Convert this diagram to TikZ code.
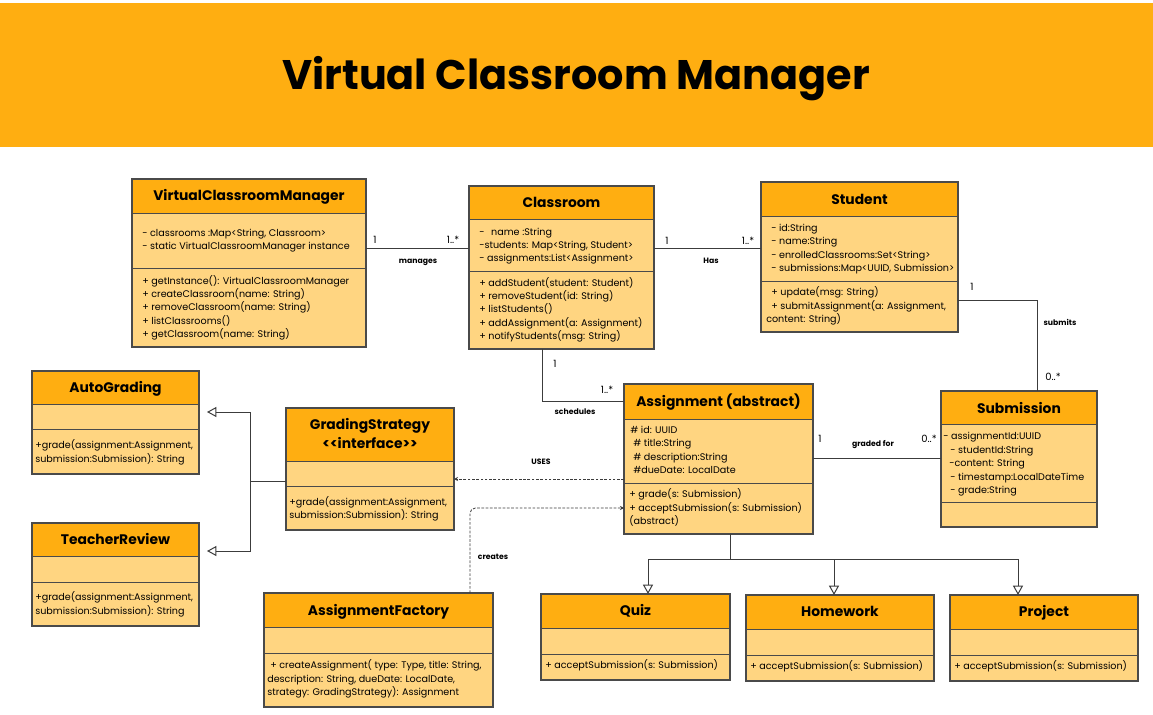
\documentclass[tikz,border=0pt]{standalone}
\usepackage{fontspec}
\setmainfont{Poppins}
\usetikzlibrary{arrows.meta,fit,calc}

\definecolor{headc}{HTML}{FFAE11}
\definecolor{bodyc}{HTML}{FFD581}
\definecolor{framec}{HTML}{4A4A4A}
\definecolor{linec}{HTML}{3C3C3C}

\tikzset{
  frame/.style={draw=framec, line width=0.8pt, inner sep=0pt, outer sep=0pt},
  rule/.style={draw=framec, line width=0.75pt},
  classtitle/.style={font=\fontsize{10.4}{13}\selectfont\bfseries, inner sep=0pt},
  bodytext/.style={font=\fontsize{7.2}{10}\selectfont, inner sep=0pt},
  mult/.style={font=\fontsize{7.5}{9}\selectfont, inner sep=0pt},
  rolelabel/.style={font=\fontsize{5.8}{7}\selectfont\bfseries, inner sep=0pt},
  assoc/.style={draw=linec, line width=0.75pt},
  dep/.style={draw=linec, line width=0.6pt, dash pattern=on 2pt off 1.2pt,
    -{Stealth[length=3pt,width=3pt]}},
  inherit/.style={draw=linec, line width=0.75pt,
    -{Triangle[open,length=7pt,width=7.5pt]}},
}

% class box: name, left, top, right, bottom, header bottom, divider, title baseline, title
\newcommand\umlclass[9]{%
  \fill[bodyc] (#2,#3) rectangle (#4,#5);
  \fill[headc] (#2,#3) rectangle (#4,#6);
  \draw[rule] (#2,#6) -- (#4,#6);
  \draw[rule] (#2,#7) -- (#4,#7);
  \node[frame, fit={(#2,#3)(#4,#5)}] (#1) {};
  \node[classtitle, anchor=base] (#1-title) at ({(#2+#4)/2},#8) {#9};
}

% compartment lines: name, x, first baseline, line step, list of lines
\newcommand\textlines[5]{%
  \foreach \t [count=\i] in {#5} {
    \node[bodytext, anchor=base west] (#1-\i) at (#2,{#3+(\i-1)*#4}) {\t};
  }%
}

\begin{document}
\begin{tikzpicture}[x=0.75pt,y=-0.75pt]
\useasboundingbox (0,0) rectangle (1153,714);
\fill[white] (0,0) rectangle (1153,714);

% banner
\fill[headc] (0,3) rectangle (1153,147);
\node[font=\fontsize{31}{36}\selectfont\bfseries, anchor=base, inner sep=0pt]
  (banner) at (576,89) {Virtual Classroom Manager};

% ---- classes ----
\umlclass{vcm}{132}{179}{366}{347}{213}{268}{200.5}{VirtualClassroomManager}
\textlines{vcm-a}{142}{236}{13.7}{{- classrooms :Map<String, Classroom>},{- static VirtualClassroomManager instance}}
\textlines{vcm-m}{142}{284.5}{13.2}{{+ getInstance(): VirtualClassroomManager},{+ createClassroom(name: String)},{+ removeClassroom(name: String)},{+ listClassrooms()},{+ getClassroom(name: String)}}

\umlclass{classroom}{469}{186}{654}{349}{219}{271}{207}{Classroom}
\textlines{classroom-a}{479}{235.5}{12.9}{{-\hspace*{5pt}name :String},{-students: Map<String, Student>},{- assignments:List<Assignment>}}
\textlines{classroom-m}{479}{286.5}{13.2}{{+ addStudent(student: Student)},{+ removeStudent(id: String)},{+ listStudents()},{+ addAssignment(a: Assignment)},{+ notifyStudents(msg: String)}}

\umlclass{student}{761}{182}{958}{332}{216}{281}{204}{Student}
\textlines{student-a}{771}{231.5}{13.3}{{- id:String},{- name:String},{- enrolledClassrooms:Set<String>},{- submissions:Map<UUID, Submission>}}
\textlines{student-m}{766}{295.5}{13.5}{{\hspace*{3.75pt}+ update(msg: String)},{\hspace*{3.75pt}+ submitAssignment(a: Assignment,},{content: String)}}

\umlclass{assignment}{624}{384}{813}{534}{419}{483}{406}{Assignment (abstract)}
\textlines{assignment-a}{630}{433.5}{13.3}{{\# id: UUID},{\hspace*{2.25pt}\# title:String},{\hspace*{2.25pt}\# description:String},{\hspace*{2.25pt}\#dueDate: LocalDate}}
\textlines{assignment-m}{629}{497.5}{13.5}{{+ grade(s: Submission)},{+ acceptSubmission(s: Submission)},{(abstract)}}

\umlclass{submission}{941}{391}{1097}{527}{424}{502}{413}{Submission}
\textlines{submission-a}{943}{439.5}{13.5}{{- assignmentId:UUID},{\hspace*{5.25pt}- studentId:String},{\hspace*{4.5pt}-content: String},{\hspace*{5.25pt}- timestamp:LocalDateTime},{\hspace*{5.25pt}- grade:String}}

\umlclass{autograding}{32}{371}{199}{474}{404}{429}{392}{AutoGrading}
\textlines{autograding-m}{35}{448.5}{13.5}{{+grade(assignment:Assignment,},{submission:Submission): String}}

\umlclass{teacher}{32}{523}{199}{626}{556}{582}{544}{TeacherReview}
\textlines{teacher-m}{35}{600}{14}{{+grade(assignment:Assignment,},{submission:Submission): String}}

\umlclass{gs}{286}{408}{454}{530}{461}{486}{429}{GradingStrategy}
\node[classtitle, anchor=base] (gs-stereo) at (370,448) {<\kern0pt<interface>\kern0pt>};
\textlines{gs-m}{289}{505.5}{13}{{+grade(assignment:Assignment,},{submission:Submission): String}}

\umlclass{factory}{264}{593}{493}{707}{627}{653}{615}{AssignmentFactory}
\textlines{factory-m}{267}{668.5}{13.5}{{\hspace*{2.25pt}+ createAssignment( type: Type, title: String,},{description: String, dueDate: LocalDate,},{strategy: GradingStrategy): Assignment}}

\umlclass{quiz}{541}{594}{730}{680}{628}{654}{615}{Quiz}
\textlines{quiz-m}{545}{668.5}{13}{{+ acceptSubmission(s: Submission)}}

\umlclass{homework}{746}{595}{934}{681}{629}{655}{616}{Homework}
\textlines{homework-m}{750}{669.5}{13}{{+ acceptSubmission(s: Submission)}}

\umlclass{project}{950}{595}{1138}{681}{629}{655}{616}{Project}
\textlines{project-m}{954}{669.5}{13}{{+ acceptSubmission(s: Submission)}}

% ---- associations ----
\draw[assoc] (vcm.east |- 0,248) -- (classroom.west |- 0,248);
\node[mult] (vcm-m1) at (375,240) {1};
\node[mult] (vcm-m2) at (453,240) {1..*};
\node[rolelabel] (manages) at (418,262) {manages};

\draw[assoc] (classroom.east |- 0,248) -- (student.west |- 0,248);
\node[mult] (has-m1) at (667,241) {1};
\node[mult] (has-m2) at (748,241) {1..*};
\node[rolelabel] (has) at (711,261) {Has};

\draw[assoc] (classroom.south -| 542,0) |- (assignment.west |- 0,401);
\node[mult] (sch-m1) at (555,364) {1};
\node[mult] (sch-m2) at (607,390) {1..*};
\node[rolelabel] (schedules) at (575,412) {schedules};

\draw[assoc] (student.east |- 0,300) -| (submission.north -| 1037,0);
\node[mult] (sub-m1) at (972,287) {1};
\node[mult] (sub-m2) at (1053,377) {0..*};
\node[rolelabel] (submits) at (1060,322) {submits};

\draw[assoc] (assignment.east |- 0,458) -- (submission.west |- 0,458);
\node[mult] (gr-m1) at (820,439) {1};
\node[mult] (gr-m2) at (929,439) {0..*};
\node[rolelabel] (gradedfor) at (873,445) {graded for};

% ---- dependencies ----
\draw[dep] (assignment.west |- 0,479) -- (gs.east |- 0,479);
\node[rolelabel] (uses) at (541,462) {USES};

\draw[dep, rounded corners=4pt] (factory.north -| 470,0) |- (assignment.west |- 0,508);
\node[rolelabel] (creates) at (493,557) {creates};

% ---- strategy implementations ----
\coordinate (gsjoin) at (250,481);
\coordinate (agrow) at (autograding.east |- 0,412);
\coordinate (trrow) at (teacher.east |- 0,551);
\draw[assoc] (gs.west |- gsjoin) -- (gsjoin);
\draw[inherit] (gsjoin) |- ([xshift=6pt]agrow);
\draw[inherit] (gsjoin) |- ([xshift=6pt]trrow);

% ---- assignment subtypes ----
\coordinate (hub) at (730,559);
\draw[assoc] (assignment.south -| hub) -- (hub);
\draw[inherit] (hub) -| (quiz.north -| 648,0);
\draw[inherit] (hub) -| (homework.north -| 834,0);
\draw[inherit] (hub) -| (project.north -| 1018,0);
\end{tikzpicture}
\end{document}
